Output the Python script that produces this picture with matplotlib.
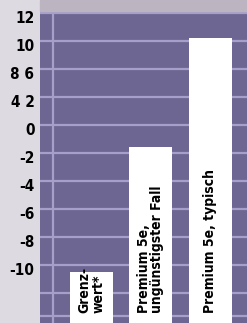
import matplotlib
matplotlib.use("Agg")
import matplotlib.pyplot as plt
from matplotlib.transforms import ScaledTranslation

# bar data (linear axis, 0 at the "0" gridline, 2 units per gridline)
categories = ["Grenz-\nwert*", "Premium 5e,\nungünstigster Fall", "Premium 5e, typisch"]
values = [-10.5, -1.6, 6.2]
tick_pos = [8, 6, 4, 2, 0, -2, -4, -6, -8, -10]
tick_labels = ["12", "10", "8 6", "4 2", "0", "-2", "-4", "-6", "-8", "-10"]
grid_pos = [8, 6, 4, 2, 0, -2, -4, -6, -8, -10, -12, -13.64]

plt.rcParams["font.family"] = ["DejaVu Sans"]
plt.rcParams["font.stretch"] = "condensed"

fig = plt.figure(figsize=(2.47, 3.23), dpi=100)
fig.patch.set_facecolor("#dedae2")
fig.patches.append(plt.Rectangle((0.16, 0.965), 0.84, 0.035, transform=fig.transFigure,
                                 color="#bdb4c2", zorder=0))

ax = fig.add_axes([40 / 247, 0, 207 / 247, 313 / 323])
ax.set_facecolor("#6d6693")
ymin, ymax = -14.14, 8.21
ax.set_ylim(ymin, ymax)
ax.set_xlim(-0.869, 2.624)

for g in grid_pos:
    ax.axhline(g, color="#a69fca", lw=1.6, zorder=1)
ax.axvline(-0.65, color="#a69fca", lw=1.6, zorder=1)

x = list(range(len(categories)))
ax.bar(x, [v - ymin for v in values], bottom=ymin, width=0.726,
       color="white", zorder=2)

for xi, lab in zip(x, categories):
    ax.text(xi, -13.4, lab, rotation=90, ha="center", va="bottom",
            multialignment="left", fontsize=10, fontweight="bold",
            color="black", linespacing=0.95, zorder=3)

ax.set_yticks(tick_pos)
ax.set_yticklabels(tick_labels, fontsize=11, fontweight="bold")
ax.tick_params(axis="y", length=0, pad=4)
ax.set_xticks([])
off = ScaledTranslation(0, -4 / 100, fig.dpi_scale_trans)
for t in ax.get_yticklabels():
    t.set_transform(t.get_transform() + off)
for s in ax.spines.values():
    s.set_visible(False)

fig.savefig("out.png", dpi=100, facecolor=fig.get_facecolor())
